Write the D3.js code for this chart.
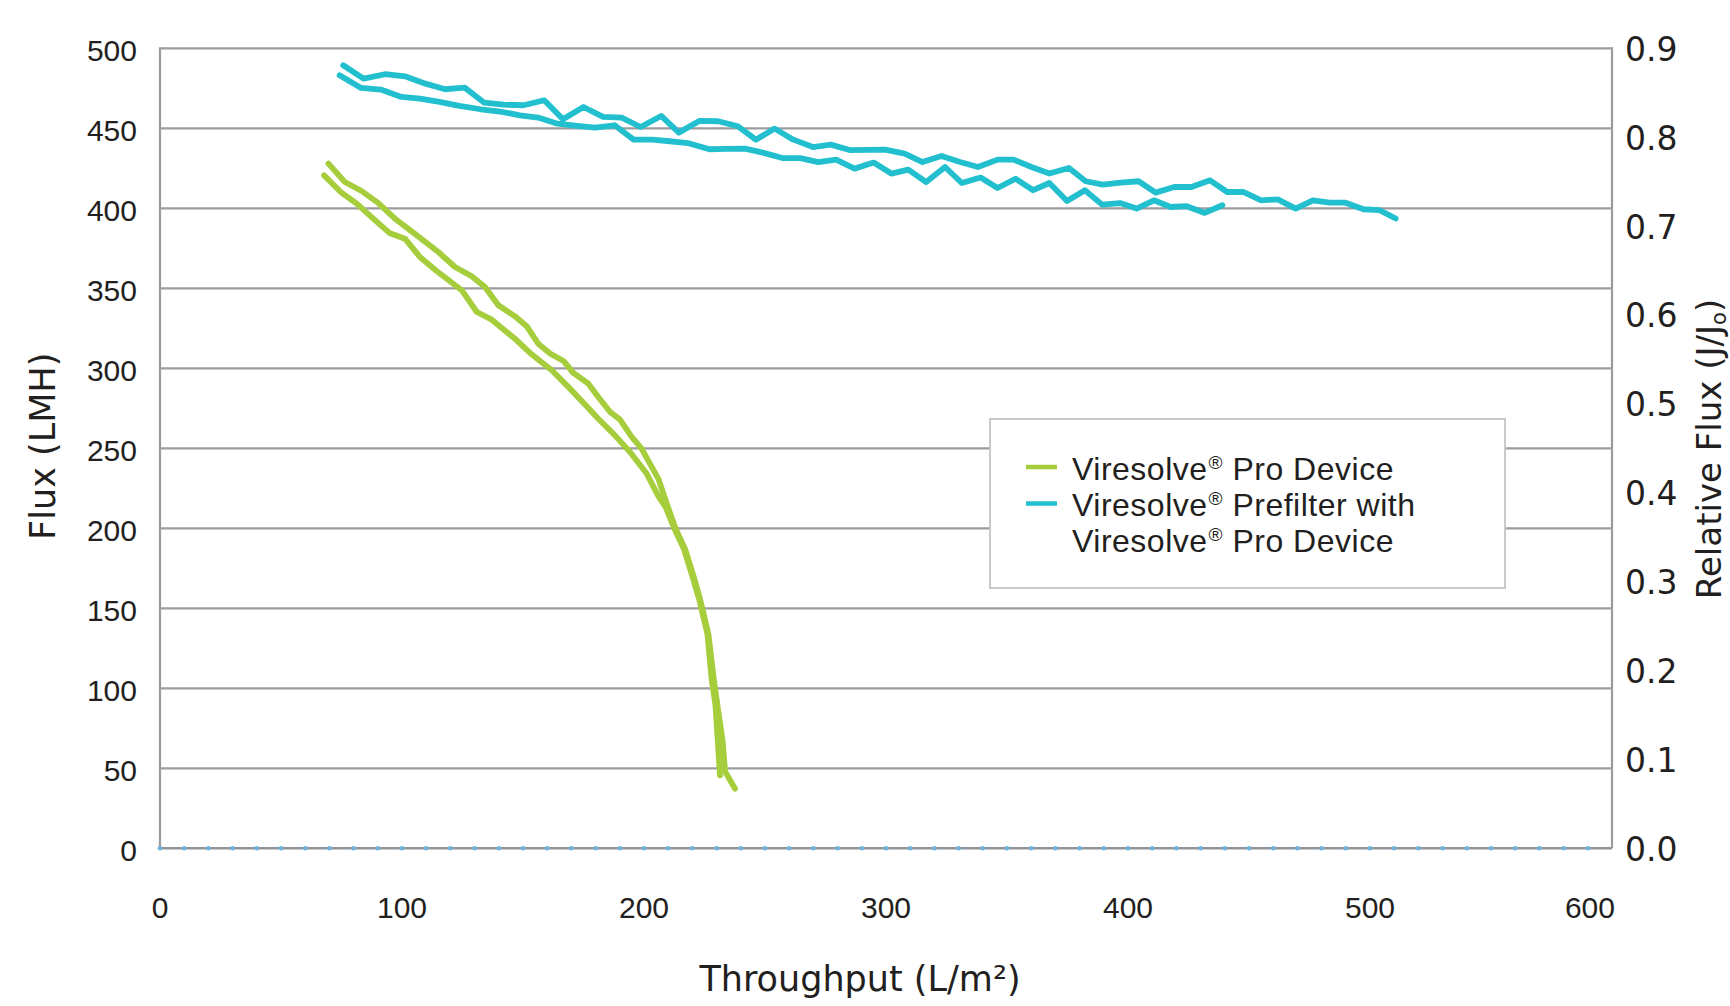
<!DOCTYPE html>
<html>
<head>
<meta charset="utf-8">
<script src="https://cdn.jsdelivr.net/npm/d3@7"></script>
<style>
  html, body { margin: 0; padding: 0; background: #ffffff; }
  svg { display: block; }
</style>
</head>
<body>
<svg id="chart" width="1730" height="1006"></svg>
<script>
// ---------------- DATA ----------------
const xTicks = [0, 100, 200, 300, 400, 500, 600];
const yTicks = [0, 50, 100, 150, 200, 250, 300, 350, 400, 450, 500];
const y2Ticks = [0, 0.1, 0.2, 0.3, 0.4, 0.5, 0.6, 0.7, 0.8, 0.9];
const baselineDotsX = d3.range(0, 600, 10);

// Viresolve Pro Device (two runs) : [throughput L/m2, flux LMH]
const proRun1 = [[69.6,427.9],[76.4,416.4],[83.3,410.8],[90.2,403.3],[97.1,393.5],[104.0,385.6],[115.0,372.7],[121.9,363.3],[128.8,357.5],[134.3,350.8],[139.8,339.4],[146.7,332.5],[151.5,326.3],[156.3,315.4],[161.2,309.2],[166.7,304.6],[170.8,297.1],[177.0,290.4],[181.1,282.1],[186.0,272.7],[190.1,267.9],[194.9,257.1],[199.0,249.8],[205.9,231.1],[209.5,215],[213,200],[217,187],[220.5,170],[223.3,155],[226.6,134],[228.9,105],[230.3,90],[232.5,67],[233.5,48],[237.6,37.3]];
const proRun2 = [[67.8,420.6],[75.1,409.6],[81.3,402.9],[88.1,393.5],[94.8,384.6],[101.2,381.0],[107.4,369.6],[114.3,360.8],[124.7,348.8],[130.9,335.2],[137.1,330.4],[147.4,317.5],[152.9,309.6],[161.9,298.8],[169.4,287.3],[176.3,276.3],[181.1,268.5],[187.3,259.2],[194.2,247.7],[201.1,234.2],[206,220],[209,213],[212.5,200],[216.5,187],[220,170],[222.9,155],[226.2,134],[228.0,105],[229.5,90],[230.5,67],[231.4,45.6]];

// Viresolve Prefilter with Viresolve Pro Device (two runs)
const preRun1 = [[75.7,489.4],[84.1,481.0],[93.0,483.8],[101.2,482.5],[109.7,477.9],[117.8,474.4],[125.9,475.4],[134.0,466.0],[142.1,464.8],[150.2,464.4],[158.8,467.5],[166.5,455.6],[175.0,463.3],[183.1,457.1],[190.8,456.7],[198.6,450.8],[207.1,457.7],[214.4,447.3],[222.8,454.6],[230.7,454.4],[238.8,451.3],[246.2,442.9],[254.0,449.8],[261.7,442.9],[269.8,438.3],[277.2,439.8],[285.3,436.3],[299.6,436.7],[307.7,434.2],[315.1,428.9],[322.9,432.7],[330.6,428.9],[338.0,425.8],[346.1,430.4],[352.7,430.4],[360.1,425.8],[367.5,421.7],[375.6,425.2],[382.5,416.9],[389.6,414.8],[397.0,416.1],[404.4,416.9],[411.4,409.8],[419.1,413.3],[426.2,413.3],[433.9,417.5],[441.0,410.2],[447.6,410.2],[455.0,405.0],[461.9,405.6],[469.3,399.8],[476.4,405.0],[483.3,403.5],[489.9,403.5],[497.3,399.4],[504.0,398.8],[510.6,393.6]];
const preRun2 = [[74.2,483.1],[83.1,475.2],[91.2,474.2],[99.8,469.6],[107.4,468.5],[115.5,466.5],[123.7,464.0],[132.5,461.9],[141.4,460.2],[148.8,458.1],[156.2,456.7],[164.3,452.9],[172.4,451.5],[179.8,450.4],[187.9,451.9],[195.7,442.9],[203.4,442.9],[210.7,441.9],[218.1,440.8],[227.0,436.9],[234.0,437.1],[241.7,437.3],[249.1,434.8],[257.2,431.4],[264.6,431.4],[272.0,428.9],[279.4,430.4],[287.0,424.8],[294.9,428.6],[302.2,421.7],[309.2,424.2],[316.6,416.4],[324.4,425.8],[331.3,415.8],[339.1,419.2],[346.1,412.7],[353.5,418.5],[360.8,411.3],[367.5,415.8],[374.8,404.6],[382.2,411.3],[389.3,402.3],[396.7,403.3],[403.6,399.8],[410.7,405.0],[417.6,400.8],[424.3,401.3],[431.7,397.1],[439.0,401.9]];

const legendLines = [["Viresolve|\u00AE| Pro Device"], ["Viresolve|\u00AE| Prefilter with", "Viresolve|\u00AE| Pro Device"]];
const xTitle = "Throughput (L/m\u00B2)";
const yTitle = "Flux (LMH)";
const y2Title = ["Relative Flux (J/J", "o", ")"];

// ---------------- STYLE ----------------
const GREEN = "#a6cd3c";
const CYAN = "#22bfcf";
const GRID = "#9c9ca0";
const TEXT = "#231f20";
const NUM_FONT = "'Liberation Sans', Arial, sans-serif";
const TITLE_FONT = "'DejaVu Sans', Verdana, sans-serif";

const svg = d3.select("#chart");
svg.append("rect").attr("width", 1730).attr("height", 1006).attr("fill", "#fff");

const L = 160, R = 1612, T = 48.3, B = 848.3;
const x = d3.scaleLinear().domain([0, 600]).range([L, R]);
const y = d3.scaleLinear().domain([0, 500]).range([B, T]);
const y2 = d3.scaleLinear().domain([0, 0.9]).range([B, T]);

// gridlines
svg.append("g").selectAll("line").data(yTicks.filter(d => d > 0)).join("line")
  .attr("x1", L).attr("x2", R).attr("y1", d => y(d)).attr("y2", d => y(d))
  .attr("stroke", GRID).attr("stroke-width", 2.2);

// axes lines
svg.append("line").attr("x1", L).attr("x2", L).attr("y1", T - 1).attr("y2", B)
  .attr("stroke", GRID).attr("stroke-width", 2.2);
svg.append("line").attr("x1", R).attr("x2", R).attr("y1", T - 1).attr("y2", B)
  .attr("stroke", GRID).attr("stroke-width", 2.2);
svg.append("line").attr("x1", L).attr("x2", R).attr("y1", B).attr("y2", B)
  .attr("stroke", "#8f959a").attr("stroke-width", 2.4);
svg.append("g").selectAll("circle").data(baselineDotsX).join("circle")
  .attr("cx", d => x(d)).attr("cy", y(0)).attr("r", 2.3).attr("fill", "#6fb3dc");

// left tick labels
svg.append("g").selectAll("text").data(yTicks).join("text")
  .attr("x", L - 23).attr("y", d => y(d) + 13)
  .attr("text-anchor", "end").attr("font-family", NUM_FONT).attr("font-size", 30)
  .attr("fill", TEXT).text(d => d);

// right tick labels
svg.append("g").selectAll("text").data(y2Ticks).join("text")
  .attr("x", R + 13).attr("y", d => y2(d) + 12.5)
  .attr("text-anchor", "start").attr("font-family", TITLE_FONT).attr("font-size", 33)
  .attr("fill", TEXT).text(d => d3.format(".1f")(d));

// bottom tick labels
svg.append("g").selectAll("text").data(xTicks).join("text")
  .attr("x", d => d === 600 ? x(d) + 3 : x(d)).attr("y", 918)
  .attr("text-anchor", d => d === 600 ? "end" : "middle")
  .attr("font-family", NUM_FONT).attr("font-size", 30)
  .attr("fill", TEXT).text(d => d);

// axis titles
svg.append("text").attr("transform", "translate(55," + ((T + B) / 2 - 2) + ") rotate(-90)")
  .attr("text-anchor", "middle").attr("font-family", TITLE_FONT).attr("font-size", 35)
  .attr("fill", TEXT).text(yTitle);

svg.append("text").attr("x", 860).attr("y", 991)
  .attr("text-anchor", "middle").attr("font-family", TITLE_FONT).attr("font-size", 35)
  .attr("fill", TEXT).text(xTitle);

const t2 = svg.append("text").attr("transform", "translate(1721," + 449 + ") rotate(-90)")
  .attr("text-anchor", "middle").attr("font-family", TITLE_FONT).attr("font-size", 34)
  .attr("fill", TEXT);
t2.append("tspan").text(y2Title[0]);
t2.append("tspan").attr("font-size", 21).attr("dy", 5).text(y2Title[1]);
t2.append("tspan").attr("dy", -5).text(y2Title[2]);

// lines
const line = d3.line().x(d => x(d[0])).y(d => y(d[1]));
const lineData = [
  {data: proRun1, color: GREEN},
  {data: proRun2, color: GREEN},
  {data: preRun1, color: CYAN},
  {data: preRun2, color: CYAN}
];
svg.append("g").selectAll("path").data(lineData).join("path")
  .attr("d", d => line(d.data)).attr("fill", "none")
  .attr("stroke", d => d.color).attr("stroke-width", 5.8)
  .attr("stroke-linejoin", "round").attr("stroke-linecap", "round");

// legend
const lg = svg.append("g");
lg.append("rect").attr("x", 990).attr("y", 419).attr("width", 515).attr("height", 169)
  .attr("fill", "#fff").attr("stroke", "#c9c9c9").attr("stroke-width", 2);
const legendColors = [GREEN, CYAN];
const swatchY = [467, 503.5];
let lineIdx = 0;
const baselines = [479.5, 515.5, 551.5];
legendLines.forEach((lines, i) => {
  lg.append("line").attr("x1", 1026).attr("x2", 1057).attr("y1", swatchY[i]).attr("y2", swatchY[i])
    .attr("stroke", legendColors[i]).attr("stroke-width", 4.5);
  lines.forEach(str => {
    const parts = str.split("|");
    const t = lg.append("text").attr("x", 1072).attr("y", baselines[lineIdx])
      .attr("font-family", NUM_FONT).attr("font-size", 32).attr("letter-spacing", 0.5)
      .attr("fill", TEXT);
    t.append("tspan").text(parts[0]);
    t.append("tspan").attr("font-size", 19).attr("dy", -11).attr("dx", 1).text(parts[1]);
    t.append("tspan").attr("dy", 11).text(parts[2]);
    lineIdx++;
  });
});
</script>
</body>
</html>
